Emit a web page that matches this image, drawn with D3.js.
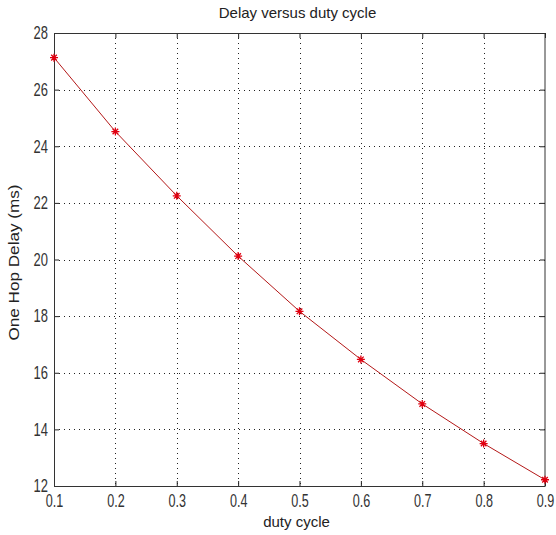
<!DOCTYPE html>
<html>
<head>
<meta charset="utf-8">
<script src="https://cdn.jsdelivr.net/npm/d3@7"></script>
<style>
  html, body { margin: 0; padding: 0; background: #fff; }
  svg { display: block; }
</style>
</head>
<body>
<script>
const dutyCycle = [0.1, 0.2, 0.3, 0.4, 0.5, 0.6, 0.7, 0.8, 0.9];
const delayMs   = [27.13, 24.52, 22.25, 20.12, 18.17, 16.47, 14.9, 13.5, 12.22];
const xTicks = [0.1, 0.2, 0.3, 0.4, 0.5, 0.6, 0.7, 0.8, 0.9];
const yTicks = [12, 14, 16, 18, 20, 22, 24, 26, 28];
const titleText = "Delay versus duty cycle";
const xLabelText = "duty cycle";
const yLabelText = "One Hop Delay (ms)";

const W = 556, H = 535;
const m = {left: 54, right: 11, top: 33, bottom: 49};
const pw = W - m.left - m.right, ph = H - m.top - m.bottom;

const svg = d3.select("body").append("svg").attr("width", W).attr("height", H);
const g = svg.append("g").attr("transform", `translate(${m.left},${m.top})`);

const x = d3.scaleLinear().domain([0.1, 0.9]).range([0, pw]);
const y = d3.scaleLinear().domain([12, 28]).range([ph, 0]);

const tickFont = "'Liberation Sans', Arial, sans-serif";
const labelFont = "'Liberation Sans', Arial, sans-serif";

// Grid
g.append("g").selectAll("line").data(xTicks.slice(1, -1)).join("line")
  .attr("x1", d => Math.round(x(d)) + 0.5).attr("x2", d => Math.round(x(d)) + 0.5)
  .attr("y1", 0).attr("y2", ph)
  .attr("stroke", "#222").attr("stroke-width", 1).attr("stroke-dasharray", "1,4");
g.append("g").selectAll("line").data(yTicks.slice(1, -1)).join("line")
  .attr("y1", d => Math.round(y(d)) + 0.5).attr("y2", d => Math.round(y(d)) + 0.5)
  .attr("x1", 0).attr("x2", pw)
  .attr("stroke", "#222").attr("stroke-width", 1).attr("stroke-dasharray", "1,4");

// Axes (ticks inward)
const xAxis = d3.axisBottom(x).tickValues(xTicks).tickFormat(d3.format(".1f")).tickSizeInner(-5).tickSizeOuter(0).tickPadding(9);
const yAxis = d3.axisLeft(y).tickValues(yTicks).tickFormat(d3.format("d")).tickSizeInner(-5).tickSizeOuter(0).tickPadding(7);
const xTop = d3.axisTop(x).tickValues(xTicks).tickFormat("").tickSizeInner(-5).tickSizeOuter(0);
const yRight = d3.axisRight(y).tickValues(yTicks).tickFormat("").tickSizeInner(-5).tickSizeOuter(0);

const gx = g.append("g").attr("transform", `translate(0,${ph})`).call(xAxis);
const gy = g.append("g").call(yAxis);
const gxt = g.append("g").call(xTop);
const gyr = g.append("g").attr("transform", `translate(${pw},0)`).call(yRight);
[gx, gy, gxt, gyr].forEach(a => {
  a.select(".domain").remove();
  a.selectAll(".tick line").attr("stroke", "#222");
});
gx.selectAll("text").attr("font-family", tickFont).attr("font-size", 18).attr("fill", "#333")
  .attr("dy", "0.71em").attr("y", 0)
  .attr("transform", "translate(0,8) scale(0.7,1)");
gy.selectAll("text").attr("font-family", tickFont).attr("font-size", 18).attr("fill", "#333").attr("x", 0)
  .attr("transform", "translate(-6,0) scale(0.72,1)");

// Frame
g.append("rect").attr("x", 0.5).attr("y", 0.5).attr("width", pw - 0.5).attr("height", ph)
  .attr("fill", "none").attr("stroke", "#333").attr("stroke-width", 1);

// Line
const line = d3.line().x((d, i) => x(dutyCycle[i])).y(d => y(d));
g.append("path").datum(delayMs).attr("d", line)
  .attr("fill", "none").attr("stroke", "#b41818").attr("stroke-width", 1);

// Markers '*'
const s = 4;
const mk = g.append("g").selectAll("g").data(delayMs).join("g")
  .attr("transform", (d, i) => `translate(${x(dutyCycle[i])},${y(d)})`);
mk.append("path")
  .attr("d", `M${-s},0L${s},0M0,${-s}L0,${s}M${-s*0.7},${-s*0.7}L${s*0.7},${s*0.7}M${-s*0.7},${s*0.7}L${s*0.7},${-s*0.7}`)
  .attr("stroke", "#e00010").attr("stroke-width", 1.3).attr("fill", "none");

// Title & labels
svg.append("text").attr("x", m.left + pw / 2 - 2).attr("y", 18).attr("text-anchor", "middle")
  .attr("font-family", labelFont).attr("font-size", 15).attr("fill", "#222").text(titleText);
svg.append("text").attr("x", m.left + pw / 2 - 3).attr("y", 527).attr("text-anchor", "middle")
  .attr("font-family", labelFont).attr("font-size", 15).attr("fill", "#222").text(xLabelText);
svg.append("text").attr("transform", `translate(19,${m.top + ph / 2 + 3}) rotate(-90)`)
  .attr("text-anchor", "middle")
  .attr("font-family", labelFont).attr("font-size", 15).attr("fill", "#222")
  .attr("textLength", 156).attr("lengthAdjust", "spacingAndGlyphs")
  .text(yLabelText);
</script>
</body>
</html>
